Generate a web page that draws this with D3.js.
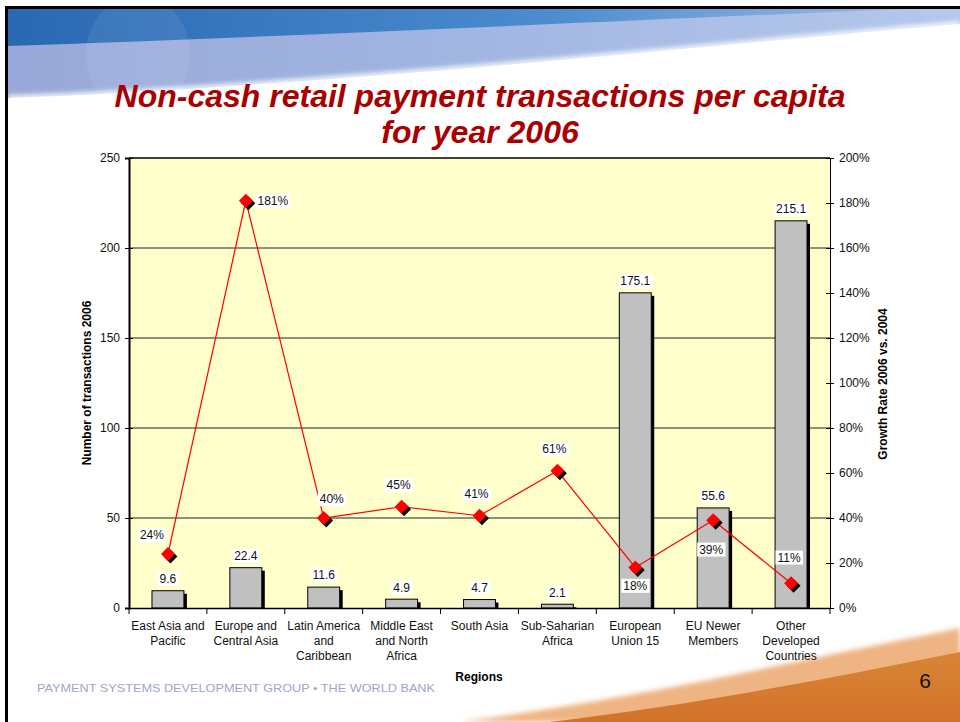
<!DOCTYPE html>
<html lang="en">
<head>
    <meta charset="UTF-8">
    <title>Non-cash retail payment transactions per capita</title>
    <script src="https://d3js.org/d3.v7.min.js"></script>
    <style>
        body { margin: 0; background: #fff; }
        text { font-family: Arial, "Liberation Sans", sans-serif; }
    </style>
</head>
<body>
    <script>
        // data
        var categories = [
            "East Asia and\nPacific",
            "Europe and\nCentral Asia",
            "Latin America\nand\nCaribbean",
            "Middle East\nand North\nAfrica",
            "South Asia",
            "Sub-Saharian\nAfrica",
            "European\nUnion 15",
            "EU Newer\nMembers",
            "Other\nDeveloped\nCountries"
        ];
        var transactions = [9.6, 22.4, 11.6, 4.9, 4.7, 2.1, 175.1, 55.6, 215.1];
        var growth = [0.24, 1.81, 0.40, 0.45, 0.41, 0.61, 0.18, 0.39, 0.11];
        var leftTicks = [0, 50, 100, 150, 200, 250];
        var rightTicks = [0, 0.2, 0.4, 0.6, 0.8, 1.0, 1.2, 1.4, 1.6, 1.8, 2.0];
        // where each growth label sits around its marker
        var growthLabelPlace = ["upleft", "right", "upright", "up", "up", "up", "down", "downfar", "upfar"];

        var w = 960;
        var h = 722;
        var plot = { left: 129, right: 830, top: 158, bottom: 608 };

        var svg = d3.select("body")
            .append("svg")
            .attr("width", w)
            .attr("height", h);

        var defs = svg.append("defs");

        // ---- slide background decoration ----
        var gDark = defs.append("linearGradient").attr("id", "gDark")
            .attr("x1", "0").attr("x2", "1").attr("y1", "0").attr("y2", "0");
        gDark.append("stop").attr("offset", "0").attr("stop-color", "#2a68b2");
        gDark.append("stop").attr("offset", "0.6").attr("stop-color", "#4a8ccf");
        gDark.append("stop").attr("offset", "1").attr("stop-color", "#9ab8e2");

        var gLight = defs.append("linearGradient").attr("id", "gLight")
            .attr("x1", "0").attr("x2", "1").attr("y1", "0").attr("y2", "0");
        gLight.append("stop").attr("offset", "0").attr("stop-color", "#98a8d8");
        gLight.append("stop").attr("offset", "0.5").attr("stop-color", "#a2b6e2");
        gLight.append("stop").attr("offset", "1").attr("stop-color", "#b4c8ec");

        var gOrange = defs.append("linearGradient").attr("id", "gOrange")
            .attr("x1", "0").attr("x2", "0").attr("y1", "0").attr("y2", "1");
        gOrange.append("stop").attr("offset", "0").attr("stop-color", "#d98535");
        gOrange.append("stop").attr("offset", "1").attr("stop-color", "#d2722a");

        defs.append("filter").attr("id", "soft")
            .append("feGaussianBlur").attr("stdDeviation", 2.5);

        var deco = svg.append("g");
        deco.append("path")
            .attr("d", "M8,9 L960,9 L960,24 C700,46 330,86 8,98 Z")
            .attr("fill", "url(#gLight)");
        deco.append("path")
            .attr("d", "M8,9 L900,9 C640,20 300,36 8,46 Z")
            .attr("fill", "url(#gDark)");
        deco.append("ellipse")
            .attr("cx", 138).attr("cy", 55).attr("rx", 52).attr("ry", 60)
            .attr("fill", "#ffffff").attr("opacity", 0.07);
        deco.append("path")
            .attr("d", "M8,98 C330,86 700,46 960,24")
            .attr("fill", "none").attr("stroke", "#ffffff")
            .attr("stroke-width", 5).attr("filter", "url(#soft)");

        deco.append("path")
            .attr("d", "M460,722 C640,698 800,660 960,628 L960,722 Z")
            .attr("fill", "#efb483").attr("filter", "url(#soft)");
        deco.append("path")
            .attr("d", "M550,722 C700,704 830,678 960,652 L960,722 Z")
            .attr("fill", "url(#gOrange)");

        // slide frame
        deco.append("rect").attr("x", 5).attr("y", 6).attr("width", w - 5).attr("height", 3).attr("fill", "#000");
        deco.append("rect").attr("x", 5).attr("y", 6).attr("width", 3).attr("height", h - 6).attr("fill", "#000");

        // ---- title ----
        var title = svg.append("text")
            .attr("x", 480)
            .attr("text-anchor", "middle")
            .attr("font-size", "32px")
            .attr("font-weight", "bold")
            .attr("font-style", "italic")
            .attr("fill", "#a80000");
        title.append("tspan").attr("x", 480).attr("y", 107).text("Non-cash retail payment transactions per capita");
        title.append("tspan").attr("x", 480).attr("y", 143).text("for year 2006");

        // ---- scales ----
        var x = d3.scaleBand()
            .domain(categories)
            .range([plot.left, plot.right]);
        var barWidth = x.bandwidth() * 0.41;

        var yLeft = d3.scaleLinear().domain([0, 250]).range([plot.bottom, plot.top]);
        var yRight = d3.scaleLinear().domain([0, 2]).range([plot.bottom, plot.top]);

        // plot background
        svg.append("rect")
            .attr("x", plot.left).attr("y", plot.top)
            .attr("width", plot.right - plot.left).attr("height", plot.bottom - plot.top)
            .attr("fill", "#ffffcc");

        // gridlines
        svg.append("g").selectAll("line")
            .data(leftTicks.filter(d => d > 0 && d < 250))
            .enter().append("line")
            .attr("x1", plot.left).attr("x2", plot.right)
            .attr("y1", d => yLeft(d)).attr("y2", d => yLeft(d))
            .attr("stroke", "#222").attr("stroke-width", 1);

        svg.append("line")
            .attr("x1", plot.left).attr("x2", plot.right)
            .attr("y1", plot.top).attr("y2", plot.top)
            .attr("stroke", "#000").attr("stroke-width", 1.5);

        // bars with drop shadow
        var bars = svg.append("g");
        bars.selectAll("rect.shadow")
            .data(transactions)
            .enter().append("rect")
            .attr("class", "shadow")
            .attr("x", (d, i) => x(categories[i]) + (x.bandwidth() - barWidth) / 2 + 3)
            .attr("y", d => yLeft(d) + 3)
            .attr("width", barWidth)
            .attr("height", d => plot.bottom - yLeft(d) - 3)
            .attr("fill", "#000");
        bars.selectAll("rect.bar")
            .data(transactions)
            .enter().append("rect")
            .attr("class", "bar")
            .attr("x", (d, i) => x(categories[i]) + (x.bandwidth() - barWidth) / 2)
            .attr("y", d => yLeft(d))
            .attr("width", barWidth)
            .attr("height", d => plot.bottom - yLeft(d))
            .attr("fill", "#c0c0c0")
            .attr("stroke", "#000")
            .attr("stroke-width", 1);

        // axes
        var leftAxis = svg.append("g")
            .attr("transform", "translate(" + plot.left + ",0)")
            .call(d3.axisLeft(yLeft).tickValues(leftTicks).tickSize(4).tickPadding(5));
        leftAxis.select(".domain").attr("stroke-width", 2);
        leftAxis.selectAll(".tick line").attr("x2", -4).attr("x1", 4);

        var rightAxis = svg.append("g")
            .attr("transform", "translate(" + plot.right + ",0)")
            .call(d3.axisRight(yRight).tickValues(rightTicks).tickSize(4).tickPadding(5)
                .tickFormat(d3.format(".0%")));
        rightAxis.selectAll(".tick line").attr("x1", -4).attr("x2", 4);

        var bottomAxis = svg.append("g")
            .attr("transform", "translate(0," + plot.bottom + ")")
            .call(d3.axisBottom(x).tickSize(0).tickFormat(""));
        bottomAxis.select(".domain").attr("stroke-width", 1.5);

        // category boundary ticks
        var bounds = categories.map(c => x(c)).concat([plot.right]);
        svg.append("g").selectAll("line")
            .data(bounds)
            .enter().append("line")
            .attr("x1", d => d).attr("x2", d => d)
            .attr("y1", plot.bottom).attr("y2", plot.bottom + 6)
            .attr("stroke", "#000");

        svg.selectAll(".tick text")
            .attr("font-size", "12px")
            .attr("font-family", "Arial, 'Liberation Sans', sans-serif")
            .attr("fill", "#111");
        svg.selectAll(".domain, .tick line").attr("stroke", "#000");

        // category labels
        var catLabels = svg.append("g").selectAll("text")
            .data(categories)
            .enter().append("text")
            .attr("text-anchor", "middle")
            .attr("font-size", "12px")
            .attr("fill", "#111");
        catLabels.each(function(d) {
            var t = d3.select(this);
            var cx = x(d) + x.bandwidth() / 2;
            d.split("\n").forEach(function(line, k) {
                t.append("tspan").attr("x", cx).attr("y", 630 + k * 15).text(line);
            });
        });

        // axis titles
        svg.append("text")
            .attr("transform", "translate(91,383) rotate(-90)")
            .attr("text-anchor", "middle")
            .attr("font-size", "12px").attr("font-weight", "bold")
            .text("Number of transactions 2006");
        svg.append("text")
            .attr("transform", "translate(887,384) rotate(-90)")
            .attr("text-anchor", "middle")
            .attr("font-size", "12px").attr("font-weight", "bold")
            .text("Growth Rate 2006 vs. 2004");
        svg.append("text")
            .attr("x", 479).attr("y", 681)
            .attr("text-anchor", "middle")
            .attr("font-size", "12px").attr("font-weight", "bold")
            .text("Regions");

        // growth line and markers
        var cxOf = i => x(categories[i]) + x.bandwidth() / 2;
        var line = d3.line()
            .x((d, i) => cxOf(i))
            .y(d => yRight(d));
        svg.append("path")
            .datum(growth)
            .attr("d", line)
            .attr("fill", "none")
            .attr("stroke", "#ff0000")
            .attr("stroke-width", 1.2);

        var diamond = d3.symbol().type(d3.symbolSquare).size(96);
        var markers = svg.append("g");
        markers.selectAll("path.mshadow")
            .data(growth)
            .enter().append("path")
            .attr("class", "mshadow")
            .attr("d", diamond)
            .attr("transform", (d, i) => "translate(" + (cxOf(i) + 2.5) + "," + (yRight(d) + 2.5) + ") rotate(45)")
            .attr("fill", "#000");
        markers.selectAll("path.marker")
            .data(growth)
            .enter().append("path")
            .attr("class", "marker")
            .attr("d", diamond)
            .attr("transform", (d, i) => "translate(" + cxOf(i) + "," + yRight(d) + ") rotate(45)")
            .attr("fill", "#ff0000");

        // data labels with white boxes
        function boxedLabel(g, cx, cy, str) {
            var bg = g.append("rect").attr("fill", "#fff");
            var t = g.append("text")
                .attr("x", cx).attr("y", cy)
                .attr("dy", "0.36em")
                .attr("text-anchor", "middle")
                .attr("font-size", "12px")
                .attr("fill", "#111")
                .text(str);
            var bb = t.node().getBBox();
            bg.attr("x", bb.x - 2).attr("y", bb.y)
                .attr("width", bb.width + 4).attr("height", bb.height);
        }

        var labels = svg.append("g");
        transactions.forEach(function(d, i) {
            boxedLabel(labels, cxOf(i), yLeft(d) - 12, d3.format(".1f")(d));
        });

        var placeOffset = {
            upleft: [-16, -19],
            right: [27, 0],
            upright: [8, -19],
            up: [-3, -22],
            upfar: [-2, -26],
            down: [0, 18],
            downfar: [-2, 29]
        };
        growth.forEach(function(d, i) {
            var off = placeOffset[growthLabelPlace[i]];
            boxedLabel(labels, cxOf(i) + off[0], yRight(d) + off[1], d3.format(".0%")(d));
        });

        // footer
        svg.append("text")
            .attr("x", 37).attr("y", 692)
            .attr("font-size", "11px")
            .attr("fill", "#9ba8c6")
            .attr("textLength", 398)
            .attr("lengthAdjust", "spacingAndGlyphs")
            .text("PAYMENT SYSTEMS DEVELOPMENT GROUP \u2022 THE WORLD BANK");
        svg.append("text")
            .attr("x", 925).attr("y", 688)
            .attr("text-anchor", "middle")
            .attr("font-size", "21px")
            .attr("fill", "#111")
            .text("6");
    </script>
</body>
</html>
